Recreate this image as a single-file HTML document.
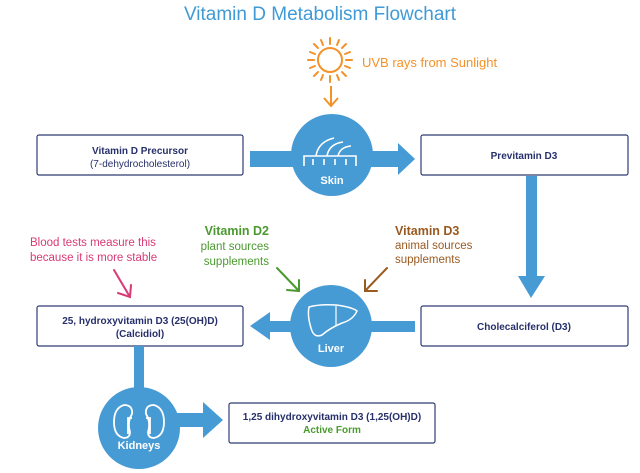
<!DOCTYPE html>
<html><head><meta charset="utf-8"><style>
body{margin:0;background:#fff;}
svg{display:block;font-family:"Liberation Sans",sans-serif;}
</style></head><body>
<svg width="640" height="473" viewBox="0 0 640 473">
<text x="320" y="20" text-anchor="middle" font-size="19" fill="#3f9ad6">Vitamin D Metabolism Flowchart</text>
<!-- sun -->
<g stroke="#f39229" stroke-width="2" fill="none">
<circle cx="330" cy="60" r="12"/>
<g stroke-linecap="round">
<line x1="330" y1="38" x2="330" y2="44"/><line x1="330" y1="76" x2="330" y2="82"/>
<line x1="308" y1="60" x2="314" y2="60"/><line x1="346" y1="60" x2="352" y2="60"/>
<line x1="314" y1="44" x2="318" y2="48"/><line x1="346" y1="44" x2="342" y2="48"/>
<line x1="314" y1="76" x2="318" y2="72"/><line x1="346" y1="76" x2="342" y2="72"/>
<line x1="321" y1="40" x2="323" y2="45"/><line x1="339" y1="40" x2="337" y2="45"/>
<line x1="321" y1="80" x2="323" y2="75"/><line x1="339" y1="80" x2="337" y2="75"/>
<line x1="310" y1="52" x2="315" y2="54"/><line x1="350" y1="52" x2="345" y2="54"/>
<line x1="310" y1="68" x2="315" y2="66"/><line x1="350" y1="68" x2="345" y2="66"/>
</g>
<line x1="331" y1="86" x2="331" y2="106"/>
<polyline points="324,98 331,106 338,98"/>
</g>
<text x="362" y="67" font-size="13" fill="#f39229">UVB rays from Sunlight</text>
<!-- boxes -->
<g fill="#fff" stroke="#2e3b74" stroke-width="1.2">
<rect x="37" y="135" width="206" height="40" rx="2"/>
<rect x="421" y="135" width="207" height="40" rx="2"/>
<rect x="421" y="306" width="207" height="40" rx="2"/>
<rect x="37" y="306" width="206" height="40" rx="2"/>
<rect x="229" y="403" width="206" height="40" rx="2"/>
</g>
<g fill="#27306b" font-size="10" text-anchor="middle">
<text x="140" y="154" font-weight="bold">Vitamin D Precursor</text>
<text x="140" y="167">(7-dehydrocholesterol)</text>
<text x="524" y="159" font-weight="bold">Previtamin D3</text>
<text x="524" y="330" font-weight="bold">Cholecalciferol (D3)</text>
<text x="140" y="324" font-weight="bold">25, hydroxyvitamin D3 (25(OH)D)</text>
<text x="140" y="337" font-weight="bold">(Calcidiol)</text>
<text x="332" y="420" font-weight="bold">1,25 dihydroxyvitamin D3  (1,25(OH)D)</text>
<text x="332" y="433" font-weight="bold" fill="#4a9a2f">Active Form</text>
</g>
<!-- blue connectors -->
<g fill="#479bd5">
<rect x="250" y="151" width="150" height="16"/>
<polygon points="398,143 415,159 398,175"/>
<circle cx="332" cy="155" r="41"/>
<rect x="526" y="176" width="11" height="104"/>
<polygon points="518,276 545,276 531,298"/>
<rect x="265" y="321" width="150" height="11"/>
<polygon points="270,312 250,326 270,340"/>
<circle cx="331" cy="326" r="41"/>
<rect x="134" y="346" width="10" height="50"/>
<circle cx="139" cy="428" r="41"/>
<rect x="175" y="413" width="30" height="14"/>
<polygon points="203,402 223,420 203,438"/>
</g>
<!-- skin icon -->
<g stroke="#fff" stroke-width="1.6" fill="none">
<path d="M304 166 v-10 h52 v10"/>
<path d="M316 156 q2 -14 18 -18"/><path d="M327 156 q2 -12 16 -14"/><path d="M338 156 q2 -9 13 -10"/>
<line x1="313" y1="159" x2="313" y2="165"/><line x1="324" y1="159" x2="324" y2="165"/><line x1="335" y1="159" x2="335" y2="165"/><line x1="346" y1="159" x2="346" y2="165"/>
</g>
<text x="332" y="184" font-size="11" font-weight="bold" fill="#fff" text-anchor="middle">Skin</text>
<!-- liver icon -->
<path d="M309 307 q10 -3 27 -2 q16 2 21 6 q-4 9 -15 12 q-12 5 -20 12 q-7 3 -10 -4 q-5 -14 -3 -24z" fill="none" stroke="#fff" stroke-width="1.5"/>
<line x1="336" y1="306" x2="336" y2="326" stroke="#fff" stroke-width="1.2"/>
<text x="331" y="352" font-size="11" font-weight="bold" fill="#fff" text-anchor="middle">Liver</text>
<!-- kidneys -->
<g fill="none" stroke="#fff" stroke-width="1.8">
<path d="M124 405 q-10 3 -10 17 q0 14 10 16 q6 0 6 -6 q-3 -10 2 -18 q1 -9 -8 -9z"/>
<path d="M154 405 q10 3 10 17 q0 14 -10 16 q-6 0 -6 -6 q3 -10 -2 -18 q-1 -9 8 -9z"/>
<path d="M132 418 h-4 v16"/><path d="M146 418 h4 v16"/>
</g>
<text x="139" y="449" font-size="11" font-weight="bold" fill="#fff" text-anchor="middle">Kidneys</text>
<!-- annotations -->
<g font-size="11.5">
<text x="30" y="246" fill="#d83a75">Blood tests measure this</text>
<text x="30" y="261" fill="#d83a75">because it is more stable</text>
<text x="269" y="235" fill="#4a9a2f" text-anchor="end" font-weight="bold" font-size="12.5">Vitamin D2</text>
<text x="269" y="250" fill="#4a9a2f" text-anchor="end">plant sources</text>
<text x="269" y="265" fill="#4a9a2f" text-anchor="end">supplements</text>
<text x="395" y="235" fill="#9a5a1f" font-weight="bold" font-size="12.5">Vitamin D3</text>
<text x="395" y="249" fill="#9a5a1f">animal sources</text>
<text x="395" y="263" fill="#9a5a1f">supplements</text>
</g>
<g fill="none" stroke-width="2" stroke-linecap="round">
<g stroke="#d83a75"><line x1="114" y1="270" x2="130" y2="297"/><polyline points="118,293 130,297 131,285"/></g>
<g stroke="#4a9a2f"><line x1="277" y1="268" x2="299" y2="291"/><polyline points="287,290 299,291 299,280"/></g>
<g stroke="#9a5a1f"><line x1="387" y1="268" x2="365" y2="291"/><polyline points="365,280 365,291 377,291"/></g>
</g>
</svg>
</body></html>
